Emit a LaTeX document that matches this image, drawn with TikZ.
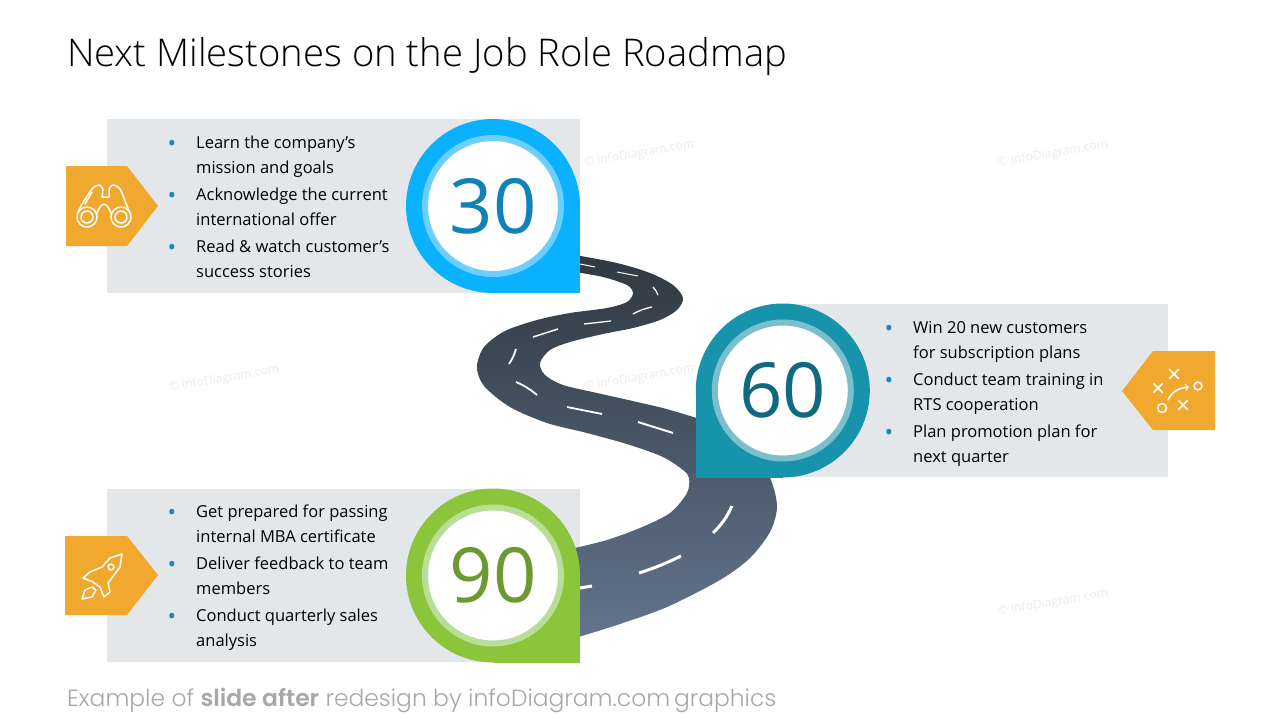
\documentclass[tikz,border=0pt]{standalone}
\usepackage{fontspec}
\setmainfont{Open Sans}
\newfontfamily\titlefont{Open Sans Light}
\newfontfamily\footfont[BoldFont={Poppins SemiBold}]{Poppins Light}
\usetikzlibrary{positioning}
\usetikzlibrary{calc}
\usetikzlibrary{arrows}
\definecolor{panelgrey}{HTML}{E4E7EA}
\definecolor{tagorange}{HTML}{F0A92E}
\definecolor{bulletblue}{HTML}{1A88C0}
\definecolor{markgrey}{HTML}{E9ECEF}
\definecolor{footgrey}{HTML}{A8A8A8}
\definecolor{pinblue}{HTML}{0AB1FF}
\definecolor{ringblue}{HTML}{6CCFFF}
\definecolor{numblue}{HTML}{0F82B8}
\definecolor{pinteal}{HTML}{1793AB}
\definecolor{ringteal}{HTML}{7BBFCC}
\definecolor{numteal}{HTML}{10697F}
\definecolor{pingreen}{HTML}{8AC53C}
\definecolor{ringgreen}{HTML}{B9DE97}
\definecolor{numgreen}{HTML}{6A9A30}
\definecolor{roadtop}{HTML}{2F3942}
\definecolor{roadbottom}{HTML}{63748C}
\tikzset{>=stealth'}
\tikzset{panel/.style={fill=panelgrey, anchor=north west, minimum height=173.5pt, inner sep=0pt}}
\tikzset{pinhead/.style={circle, fill=#1, minimum size=174pt, inner sep=0pt}}
\tikzset{numring/.style 2 args={circle, draw=#1, line width=6pt, fill=white, minimum size=136pt, inner sep=0pt,
      text=#2, font=\fontsize{76}{76}\selectfont}}
\tikzset{itemtext/.style={anchor=north west, inner sep=0pt, align=left, font=\fontsize{16.5}{25}\selectfont}}
\tikzset{itemdot/.style={text=bulletblue, inner sep=0pt, font=\fontsize{23}{25}\selectfont}}
\tikzset{stamp/.style={text=markgrey, rotate=10, inner sep=0pt, font=\fontsize{12.2}{12}\selectfont}}
\tikzset{iconline/.style={draw=white, line width=1.5pt, line cap=round, line join=round}}

\begin{document}
\begin{tikzpicture}[x=1pt, y=-1pt]
\useasboundingbox (0,0) rectangle (1280,720);
\fill[white] (0,0) rectangle (1280,720);

\node[anchor=base west, inner sep=0pt, font=\titlefont\fontsize{38.2}{40}\selectfont] (title) at (67,66) {Next Milestones on the Job Role Roadmap};
\node[anchor=base west, inner sep=0pt, text=footgrey, font=\footfont\fontsize{23.4}{26}\selectfont] (foot) at (67,706)
  {Example of \textbf{slide after} redesign by infoDiagram.com\,graphics};

\node[stamp] (s1) at (639,154) {© infoDiagram.com};
\node[stamp] (s2) at (1053,154) {© infoDiagram.com};
\node[stamp] (s3) at (224,379) {© infoDiagram.com};
\node[stamp] (s4) at (639,378) {© infoDiagram.com};
\node[stamp] (s5) at (1053,603) {© infoDiagram.com};

\node[panel, minimum width=473pt] (panelA) at (107,119) {};
\node[panel, minimum width=385pt] (panelB) at (783,303.5) {};
\node[panel, minimum width=473pt] (panelC) at (107,488.5) {};

% road
\path[top color=roadtop, bottom color=roadbottom]
  plot[smooth] coordinates {(575,255) (617,263) (650,273) (673,285) (683,298) (677,310) (660,320) (633,328)
    (603,334) (570,342) (550,350) (540,363) (545,375) (563,385) (597,393) (637,402) (670,410) (715,425)
    (755,450) (771,480) (777,507) (770,532) (750,558) (720,580) (667,607) (617,625) (575,638)}
  -- plot[smooth] coordinates {(575,548) (607,540) (640,528) (670,513) (687,493) (689,478) (683,470) (663,457)
    (630,445) (587,433) (547,423) (510,407) (484,386) (477,367) (484,347) (505,331) (537,320) (570,313)
    (607,308) (627,302) (633,293) (627,285) (603,277) (575,272)}
  -- cycle;
\foreach \wd/\xa/\ya/\xb/\yb/\bnd in {1/580/264/595/267/0, 1/617/272/638/276/0, 1.3/653/287/658/295/10,
    1.3/633/314/652/307/8, 1.3/584/324/611/321/0, 1.5/533/337/558/329/0, 1.8/516/349/509/364/8,
    1.8/516/382/537/395/8, 1.8/567/407/602/414/0, 2/638/422/673/433/0, 3/732/506/713/533/10,
    3/681/556/639/573/4, 3/592/586/580/588/0}
  \draw[white, line width=\wd pt] (\xa,\ya) to[bend left=\bnd] (\xb,\yb);

% pins
\node[pinhead=pinblue] (pinA) at (493,206) {};
\fill[pinblue] (pinA.center) rectangle (pinA.east |- pinA.south);
\node[numring={ringblue}{numblue}] (numA) at (pinA.center) {30};

\node[pinhead=pinteal] (pinB) at (782.8,390.5) {};
\fill[pinteal] (pinB.center) rectangle (pinB.west |- pinB.south);
\node[numring={ringteal}{numteal}] (numB) at (pinB.center) {60};

\node[pinhead=pingreen] (pinC) at (493,575.5) {};
\fill[pingreen] (pinC.center) rectangle (pinC.east |- pinC.south);
\node[numring={ringgreen}{numgreen}] (numC) at (pinC.center) {90};

% texts
\node[itemtext] (a1) at (196,136) {Learn the company’s\\mission and goals};
\node[itemtext, below=52pt of a1.north west, anchor=north west] (a2) {Acknowledge the current\\international offer};
\node[itemtext, below=52pt of a2.north west, anchor=north west] (a3) {Read \& watch customer’s\\success stories};

\node[itemtext] (b1) at (913,321) {Win 20 new customers\\for subscription plans};
\node[itemtext, below=52pt of b1.north west, anchor=north west] (b2) {Conduct team training in\\RTS cooperation};
\node[itemtext, below=52pt of b2.north west, anchor=north west] (b3) {Plan promotion plan for\\next quarter};

\node[itemtext] (c1) at (196,505) {Get prepared for passing\\internal MBA certificate};
\node[itemtext, below=52pt of c1.north west, anchor=north west] (c2) {Deliver feedback to team\\members};
\node[itemtext, below=52pt of c2.north west, anchor=north west] (c3) {Conduct quarterly sales\\analysis};

\foreach \n in {a1,a2,a3,b1,b2,b3,c1,c2,c3}
  \node[itemdot] at ($(\n.north west)+(-24,10)$) {•};

% tags
\fill[tagorange] (66,166) -- (127,166) -- (158,206) -- (127,246) -- (66,246) -- cycle;
\fill[tagorange] (1215,351) -- (1153,351) -- (1122,391) -- (1153,430) -- (1215,430) -- cycle;
\fill[tagorange] (65,536) -- (127,536) -- (158,575) -- (127,615) -- (65,615) -- cycle;

% binoculars
\draw[iconline] (87,217) circle (6);
\draw[iconline] (121,217) circle (6);
\draw[iconline] (87,217) circle (10);
\draw[iconline] (121,217) circle (10);
\draw[iconline] plot[smooth] coordinates {(77.5,214) (81,206) (92,189) (99,185) (103,189)} -- (102,197) -- (109,197) -- (109,189)
  plot[smooth] coordinates {(109,189) (113,185) (120,189) (127,206) (130.5,214)};
\draw[iconline] plot[smooth] coordinates {(96.5,214) (100,207) (104,204) (108,207) (111.5,214)};
\draw[iconline] (85,204) -- (92,192);

% playbook
\foreach \px/\py in {1174/374, 1158/388, 1183/405} {
  \draw[iconline] (\px-4.5,\py-4.5) -- (\px+4.5,\py+4.5);
  \draw[iconline] (\px-4.5,\py+4.5) -- (\px+4.5,\py-4.5);
}
\draw[iconline] (1198,386) circle (4);
\draw[iconline] (1162,408) circle (4.5);
\draw[iconline, -to] (1168,400) to[out=65, in=185] (1189,387);

% rocket
\draw[iconline] (122,554) -- (120,567) -- (108,583) -- (110,592) -- (104,597) -- (100,587) -- (93,582) -- (83,578)
  -- (90,572) -- (102,567) -- (110,558) -- cycle;
\draw[iconline] (111,567) circle (3);
\draw[iconline] (82,599) -- (85,590) -- (92,587) -- (96,590) -- (92,597) -- cycle;
\end{tikzpicture}
\end{document}
